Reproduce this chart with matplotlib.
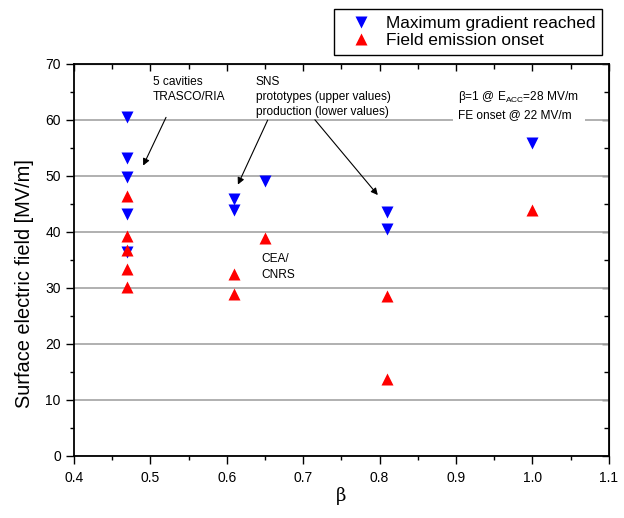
import numpy as np
import matplotlib.pyplot as plt

plt.rcParams['font.family'] = ['Liberation Sans', 'DejaVu Sans']

# Maximum gradient reached (surface field, MV/m)
beta_max = [0.47, 0.47, 0.47, 0.47, 0.47, 0.61, 0.61, 0.65, 0.81, 0.81, 1.0]
e_max = [60.5, 53.2, 49.8, 43.2, 36.5, 45.8, 44.0, 49.1, 43.5, 40.5, 55.8]

# Field emission onset (MV/m)
beta_fe = [0.47, 0.47, 0.47, 0.47, 0.47, 0.61, 0.61, 0.65, 0.81, 0.81, 1.0]
e_fe = [46.4, 39.3, 36.7, 33.4, 30.1, 32.4, 29.0, 39.0, 28.6, 13.8, 44.0]

fig = plt.figure(figsize=(6.24, 5.18), dpi=100)
ax = fig.add_axes([0.1186, 0.1197, 0.857, 0.757])

ax.yaxis.grid(True, color='#aaaaaa', lw=1.3, zorder=0)
ax.set_axisbelow(True)

l1, = ax.plot(beta_max, e_max, 'v', color='#0000ff', ms=8, mec='none', ls='none', zorder=3)
l2, = ax.plot(beta_fe, e_fe, '^', color='#ff0000', ms=8, mec='none', ls='none', zorder=3)

xmaj = np.arange(0.4, 1.11, 0.1)
xmin = np.arange(0.45, 1.1, 0.1)
ymaj = np.arange(0, 71, 10)
ymin = np.arange(5, 70, 10)

ax.set_xlim(0.4, 1.1)
ax.set_ylim(0, 70)
ax.set_xticks(xmaj)
ax.set_xticks(xmin, minor=True)
ax.set_yticks(ymaj)
ax.set_yticks(ymin, minor=True)
ax.xaxis.set_major_formatter(plt.FormatStrFormatter('%.1f'))
ax.tick_params(which='both', direction='out', top=False, right=False, width=1.0,
               labelsize=10, pad=4)
ax.tick_params(axis='x', which='both', pad=5.5)
ax.tick_params(which='major', length=5.5)
ax.tick_params(which='minor', length=3)
for s in ax.spines.values():
    s.set_linewidth(1.3)

# mirrored inward ticks on top and right
axt = ax.secondary_xaxis('top')
axt.set_xticks(xmaj)
axt.set_xticks(xmin, minor=True)
axt.tick_params(which='both', direction='in', labeltop=False, width=1.0)
axt.tick_params(which='major', length=5)
axt.tick_params(which='minor', length=3.5)
axr = ax.secondary_yaxis('right')
axr.set_yticks(ymaj)
axr.set_yticks(ymin, minor=True)
axr.tick_params(which='both', direction='in', labelright=False, width=1.0)
axr.tick_params(which='major', length=5)
axr.tick_params(which='minor', length=3.5)

ax.set_xlabel('β', fontsize=13, family='DejaVu Serif', labelpad=1.5)
ax.set_ylabel('Surface electric field [MV/m]', fontsize=14.4)
ax.yaxis.set_label_coords(-0.074, 0.441)

# annotations
afs = 8.6
arrow = dict(arrowstyle='-|>', color='black', lw=0.8, mutation_scale=10)
ax.text(0.503, 67.9, '5 cavities\nTRASCO/RIA', fontsize=afs, va='top', linespacing=1.4)
ax.annotate('', xy=(0.489, 51.4), xytext=(0.522, 60.9), arrowprops=arrow)
ax.text(0.638, 67.9, 'SNS\nprototypes (upper values)\nproduction (lower values)',
        fontsize=afs, va='top', linespacing=1.38)
ax.annotate('', xy=(0.613, 48.0), xytext=(0.655, 60.4), arrowprops=arrow)
ax.annotate('', xy=(0.80, 46.2), xytext=(0.713, 60.4), arrowprops=arrow)
ax.text(0.645, 36.2, 'CEA/\nCNRS', fontsize=afs, va='top', linespacing=1.45)
ax.text(0.903, 65.6, r'β=1 @ E$_{\mathregular{ACC}}$=28 MV/m' + '\nFE onset @ 22 MV/m',
        fontsize=afs, va='top', linespacing=1.5,
        bbox=dict(facecolor='white', edgecolor='none', pad=4), zorder=2)

fig.legend([l1, l2], ['Maximum gradient reached', 'Field emission onset'],
           loc='upper right', bbox_to_anchor=(0.9647, 0.9826), fontsize=12.4,
           frameon=True, fancybox=False, edgecolor='black', framealpha=1,
           borderpad=0.4, labelspacing=0.12, handlelength=2.3, handletextpad=0.3,
           borderaxespad=0)

fig.savefig('out.png', dpi=100)
